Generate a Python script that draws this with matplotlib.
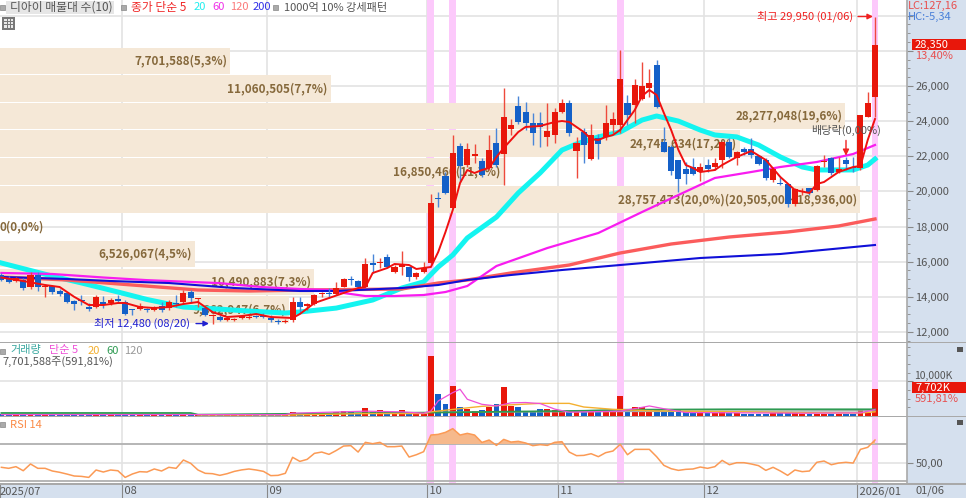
import numpy as np
import matplotlib
matplotlib.use('Agg')
import matplotlib.pyplot as plt
from matplotlib.patches import Rectangle

plt.rcParams['font.family'] = ['Noto Sans CJK KR', 'DejaVu Sans']

# daily candles, 2025/07 to 2026/01/06
opens = [15243,15072,14901,14958,14560,15243,14560,14617,14332,14218,
         13762,13819,13421,13421,13706,13649,13876,13706,13307,13307,
         13307,13250,13478,13364,13649,13706,14275,13876,13364,12909,
         12852,12681,12681,12795,12795,12909,12909,12795,12624,12567,
         12681,13706,13478,13592,14161,14218,14161,14560,15015,14901,
         14560,15925,15925,16267,15415,15698,15698,15129,15415,15925,
         19624,20876,19055,22583,21501,22014,21729,21331,22753,22127,
         23550,24859,24517,23891,23891,23095,23208,24517,25029,22298,
         23379,21843,23038,23095,23778,23778,25029,24916,25257,25883,
         27192,22810,22526,21786,21274,21388,21103,21501,21388,21786,
         22810,21900,22412,22412,22014,21786,20648,20477,20420,19282,
         19965,20193,20079,21672,21900,21103,21786,21388,21331,24233,25371]
closes = [14958,14844,15072,14503,15243,14560,14617,14275,14161,13706,
          13592,13762,13307,13990,13592,13819,13762,13023,13250,13478,
          13250,13421,13250,13706,13592,14218,13933,13933,12966,12966,
          12681,12795,12738,12909,12852,12852,12852,12681,12567,12624,
          13706,13421,13592,14104,14218,14161,14503,15015,14958,14560,
          15868,15811,15982,15698,15698,15868,15129,15358,15641,19339,
          19567,19908,22184,21445,22412,22127,20933,22355,21501,24233,
          23778,23948,23891,23322,23664,23436,24517,25029,23322,22753,
          22640,23208,22696,23891,24119,26395,24346,26054,25997,26167,
          24802,22241,21160,20705,20990,20990,21388,21274,21615,22810,
          21957,22241,22241,22070,21558,20762,21274,20420,19282,20136,
          20022,19908,21445,21729,21046,21274,21558,21331,24346,25029,28350]
highs = [15358,15186,15129,15072,15415,15415,14730,14673,14446,14275,
         13819,14104,13649,14104,14047,13933,14104,13819,13307,13649,
         13364,13478,13706,13819,14104,14389,14389,13933,13478,13023,
         12966,12852,12795,12966,12966,12966,13079,12966,12738,12738,
         13990,13990,13649,14161,14275,14503,14844,15072,15186,14958,
         16210,16438,16210,16438,15811,16609,15698,15415,15982,19851,
         19965,21103,23208,22753,22753,22696,21900,23208,23607,25883,
         24119,25428,25086,24460,24517,25029,24745,25257,25200,23095,
         23607,23834,23265,24916,24517,28045,25485,26395,27362,26964,
         27476,23664,22640,21786,21672,21900,21615,21843,21900,22867,
         23038,22298,22526,23038,22070,21900,21331,20819,20420,20193,
         20193,20193,21501,22070,21957,21957,21957,21957,24346,25655,29950]
lows = [14901,14787,14844,14389,14446,14332,13990,14161,14047,13649,
        13250,13535,13193,13364,13364,13535,13649,12966,12966,13250,
        13136,13193,13136,13250,13421,13592,13649,13421,12909,12480,
        12624,12624,12624,12738,12738,12795,12795,12567,12453,12510,
        12567,13136,13250,13535,13990,13933,14104,14560,14673,14503,
        14560,15358,15641,15641,15358,15243,14901,15015,15358,15868,
        19112,19851,19055,20534,21388,21615,20819,21217,21388,20363,
        23208,23834,23493,22640,22526,22583,22753,24460,23152,20762,
        21615,21786,21843,22924,23322,23322,23778,23891,25200,25371,
        24745,22241,20933,19965,20420,20933,20591,21103,21217,21331,
        21900,21501,22070,21900,21501,20648,20534,20363,19112,19168,
        19795,19795,20022,21388,20933,21046,21217,21103,21217,24233,24233]
volumes = [480,430,400,480,520,550,480,430,410,460,
           430,380,390,480,410,380,390,550,410,390,
           350,390,370,430,350,480,400,390,480,410,
           370,350,320,370,350,350,320,380,350,320,
           1150,500,420,1150,650,600,1150,1450,1450,900,
           2400,1250,1650,1350,870,1650,1250,870,700,
           17400,6280,3380,8700,2600,2030,1550,
           1750,2600,3580,8400,2900,2600,1160,1160,1930,2130,1640,
           1260,1260,1640,1450,1160,1160,1640,1160,5800,2130,2600,2600,1640,1640,1160,
           1640,1640,1160,970,870,870,870,1260,870,870,
           680,680,680,680,970,870,970,970,680,580,
           680,580,580,580,580,680,1640,970,7702]
rsi = [44.8,43.7,45.5,41.1,48.4,43.7,43.7,40.8,39.4,37.5,35.4,35.0,33.9,41.9,39.7,41.9,41.1,33.9,37.6,40.1,
       39.7,43.0,40.8,44.8,43.7,52.7,49.1,41.9,38.3,37.9,36.1,37.9,40.4,42.0,43.0,41.9,40.4,35.8,36.1,38.3,
       55.6,51.2,53.4,59.9,61.3,58.8,63.0,67.8,68.2,61.3,71.8,70.3,71.8,67.1,67.1,67.8,55.9,58.4,61.7,79.7,
       80.4,82.6,86.6,79.7,81.5,79.7,71.7,74.3,68.5,75.0,72.1,72.9,71.1,68.2,69.3,68.5,71.8,72.5,61.3,57.4,
       57.7,59.5,56.3,60.6,62.4,69.6,58.4,64.2,64.2,64.2,56.3,46.9,43.3,41.5,42.6,43.0,45.1,43.7,45.5,52.3,
       47.6,49.8,49.8,48.4,46.6,41.5,44.8,40.8,36.1,41.9,40.1,40.8,50.2,51.6,47.6,49.4,50.2,49.4,64.2,66.4,74.3]

ma5_idx = [0,3,6,8,10,12,14,16,17,19,21,23,25,27,29,31,33,35,37,40,41,43,45,47,49,50,51,53,54,56,57,59,60,61,62,63,64,65,66,67,68,69,70,71,72,74,76,77,78,79,80,81,82,83,84,85,86,87,88,89,90,91,92,93,94,95,96,98,99,101,103,105,107,109,111,112,113,115,117,118,119,120]
ma5_val = [15100,14900,14673,14560,14000,13535,13535,13649,13649,13421,13364,13421,13592,13706,13136,12852,12909,13023,12852,12795,13023,13649,13933,14218,14503,14560,15358,15641,15868,15811,15584,15700,16550,17690,18941,20477,21217,21046,21217,21331,21957,22469,22924,23379,23664,23721,23948,24005,23948,23664,23379,22981,22924,23095,23208,23493,24062,24631,25428,25769,25485,24460,23493,22355,21501,21331,21103,21217,21501,21957,22298,21786,20819,20079,19908,20420,20534,21103,21388,21445,22924,24119]
ma20_idx = [0,7,11,16,20,25,30,34,39,41,46,51,55,58,60,62,64,68,71,74,77,79,82,85,88,90,93,96,98,101,104,107,110,112,117,119,120]
ma20_val = [15924,15180,14790,14275,13850,13420,13300,13190,13080,13140,13360,13820,14500,14850,15700,16380,17350,18540,19910,21050,22350,22700,23100,23380,24060,24290,24000,23490,23210,23100,22640,21960,21390,21220,21220,21500,21840]
ma60_idx = [0,7,14,20,30,36,41,45,47,50,54,58,61,64,68,75,82,88,93,98,103,107,112,117,120]
ma60_val = [15358,15300,15100,14950,14780,14550,14446,14389,14218,14047,14047,14104,14275,14617,15754,16779,17633,18827,19795,20762,21103,21388,21672,22127,22640]
ma120_idx = [0,9,18,27,34,42,55,60,64,70,78,85,92,100,108,115,120]
ma120_val = [15129,14958,14673,14389,14332,14389,14446,14787,14958,15358,15811,16494,17006,17405,17690,18031,18430]
ma200_idx = [0,9,15,23,32,41,46,55,60,64,70,77,85,96,107,120]
ma200_val = [15129,15015,14901,14787,14503,14332,14332,14503,14673,14958,15243,15527,15811,16210,16438,16950]

# volume averages
vma5_idx = [0,39,40,50,55,58,59,60,62,63,64,66,68,70,72,74,76,78,85,88,89,91,94,110,118,120]
vma5_val = [400,400,800,1400,1200,800,1450,4350,6760,7730,4830,3380,2900,3800,3900,3600,2000,1100,1400,2500,2900,2100,1000,800,900,1900]
vma20_idx = [27,40,50,58,59,62,66,74,78,80,84,90,100,110,118,120]
vma20_val = [300,300,700,700,1200,1900,2800,3650,3650,2600,1930,1450,1260,970,870,1200]
vma60_idx = [0,26,27,58,66,70,80,85,100,118,120]
vma60_val = [870,870,390,970,1160,1260,1500,1800,1930,1930,1930]
vma120_idx = [60,85,120]
vma120_val = [1100,1300,1500]

# volume-by-price bars
band_prices = [27419,25854,24290,22725,21132,19539,16438,14844,13280]
band_volumes = [7701588,11060505,28277048,24745634,16850460,28757473,6526067,10490883,9662947]
band_labels = ['7,701,588(5,3%)','11,060,505(7,7%)','28,277,048(19,6%)','24,745,634(17,2%)',
               '16,850,460(11,7%)','28,757,473(20,0%)(20,505,00 ~ 18,936,00)','6,526,067(4,5%)',
               '10,490,883(7,3%)','9,662,947(6,7%)']

strong_days = [59,62,85,120]
month_pos = [-0.19,16.5,36.5,58.5,76.5,96.5,117.5]
month_labels = ['2025/07',' 08',' 09',' 10',' 11',' 12',' 2026/01']
price_ticks = [12000,14000,16000,18000,20000,22000,24000,26000,28000,30000]
price_labels = ['12,000','14,000','16,000','18,000','20,000','22,000','24,000','26,000','','']

W, H = 966, 498
RED = '#e8170b'
BLUE = '#1460c8'
RED_WICK = '#ee4a3c'
BLUE_WICK = '#4a86d8'
GRID = '#e3e3e3'
LINE = '#a9a9a9'
STRIP = '#d5e0ee'
PINK = '#fcc9fb'
TEXT = '#555555'
BAND = '#f5e8d7'
BANDTEXT = '#86693c'

def fx(x):
    return x / W

def fy(y):
    return 1 - y / H

def idx(x):
    return (x - 1.4) / 7.28

def panel(top, bottom):
    a = fig.add_axes([0, fy(bottom), fx(907), (bottom - top) / H])
    a.set_xlim(idx(0), idx(907))
    a.set_facecolor('white')
    for s in ['left', 'top', 'bottom']:
        a.spines[s].set_visible(False)
    a.spines['right'].set_color(LINE)
    a.spines['right'].set_linewidth(1.2)
    a.yaxis.tick_right()
    a.tick_params(axis='y', which='major', length=4.5, color='#888888', labelcolor=TEXT, labelsize=8, pad=1.5)
    a.tick_params(axis='y', which='minor', length=2, color='#888888')
    a.set_xticks([])
    for m in month_pos[1:]:
        a.axvline(m, color=GRID, lw=1.2, zorder=1)
    for d in strong_days:
        a.axvspan(d - 0.48, d + 0.48, color=PINK, lw=0, zorder=1.5)
    return a

def label(x, y, s, color=TEXT, size=8, ha='left', **kw):
    fig.text(fx(x), fy(y), s, color=color, fontsize=size, ha=ha, va='center', **kw)

def square(x, y):
    fig.add_artist(Rectangle((fx(x), fy(y + 5)), 5 / W, 5 / H, transform=fig.transFigure,
                             facecolor='#aaaaaa', edgecolor='#888888', lw=0.5))

def box(x0, y0, x1, y1, color, **kw):
    r = Rectangle((fx(x0), fy(y1)), (x1 - x0) / W, (y1 - y0) / H, transform=fig.transFigure,
                  facecolor=color, lw=0, **kw)
    fig.add_artist(r)
    return r

fig = plt.figure(figsize=(W / 100, H / 100), dpi=100, facecolor=STRIP)

opens = np.array(opens)
closes = np.array(closes)
highs = np.array(highs)
lows = np.array(lows)
x = np.arange(len(closes))
up = closes >= opens
colors = [RED if u else BLUE for u in up]
wick_colors = [RED_WICK if u else BLUE_WICK for u in up]

# price panel
ax = panel(0, 342)
ax.set_ylim(30890 - 56.9 * 342, 30890)
ax.set_yticks(price_ticks)
ax.set_yticklabels(price_labels)
ax.set_yticks(np.arange(11500, 30500, 500), minor=True)
for p in price_ticks:
    ax.axhline(p, color=GRID, lw=1.2, zorder=1)

ax.barh(band_prices, np.array(band_volumes) / 1e6 * 29.9 / 7.28, height=1500, left=idx(0),
        color=BAND, lw=0, zorder=2)
for price, vol, text in zip(band_prices, band_volumes, band_labels):
    ax.text(idx(vol / 1e6 * 29.9 - 3), price, text, ha='right', va='center', fontsize=8.4,
            color=BANDTEXT, fontweight='bold', zorder=3)
ax.text(idx(0), 17974, '0(0,0%)', ha='left', va='center', fontsize=8.4, color=BANDTEXT,
        fontweight='bold', zorder=3)

ax.plot(ma20_idx, ma20_val, color='#14f4f0', lw=3.6, zorder=4, solid_joinstyle='round')
ax.plot(ma120_idx, ma120_val, color='#fb5c5c', lw=2.4, zorder=4.2, solid_joinstyle='round')
ax.plot(ma60_idx, ma60_val, color='#f81cf0', lw=1.6, zorder=4.3, solid_joinstyle='round')
ax.plot(ma200_idx, ma200_val, color='#1010d8', lw=1.5, zorder=4.4)

ax.vlines(x, lows, highs, colors=wick_colors, lw=1.0, zorder=5)
heights = np.maximum(np.abs(closes - opens), 70)
ax.bar(x, heights, bottom=np.minimum(opens, closes), width=0.84, color=colors, lw=0, zorder=5.1)
ax.plot(ma5_idx, ma5_val, color='#f01010', lw=1.4, zorder=6, solid_joinstyle='round')

ax.text(idx(190), 12480, '최저 12,480 (08/20)', color='#2020d0', fontsize=8, ha='right', va='center', zorder=7)
ax.annotate('', xy=(idx(209), 12480), xytext=(idx(196), 12480), zorder=7,
            arrowprops=dict(arrowstyle='-|>', color='#2020d0', lw=1, mutation_scale=8, shrinkA=0, shrinkB=0))
ax.text(idx(853), 29950, '최고 29,950 (01/06)', color='#f02020', fontsize=8, ha='right', va='center', zorder=7)
ax.annotate('', xy=(idx(873), 29950), xytext=(idx(858), 29950), zorder=7,
            arrowprops=dict(arrowstyle='-|>', color='#f02020', lw=1, mutation_scale=8, shrinkA=0, shrinkB=0))
ax.text(idx(811), 23450, '배당락(0,00%)', color=TEXT, fontsize=8, ha='left', va='center', zorder=7)
ax.annotate('', xy=(idx(846), 22030), xytext=(idx(846), 22900), zorder=7,
            arrowprops=dict(arrowstyle='-|>', color='#f02020', lw=1, mutation_scale=9, shrinkA=0, shrinkB=0))

# volume panel
ax2 = panel(343, 416)
ax2.set_ylim(0, 21100)
ax2.set_yticks([10000])
ax2.set_yticklabels([''])
ax2.set_yticks(np.arange(2500, 21000, 2500), minor=True)
ax2.axhline(10000, color=GRID, lw=1.2, zorder=1)
ax2.bar(x, volumes, width=0.8, color=colors, lw=0, zorder=3)
ax2.plot(vma120_idx, vma120_val, color='#aaaaaa', lw=1, zorder=4)
ax2.plot(vma60_idx, vma60_val, color='#2e9a52', lw=1.3, zorder=4.1)
ax2.plot(vma20_idx, vma20_val, color='#f4b030', lw=1, zorder=4.2)
ax2.plot(vma5_idx, vma5_val, color='#ee50d8', lw=0.9, zorder=4.3)

# rsi panel
ax3 = panel(417, 484)
ax3.set_ylim(70 - (484 - 444) / 0.925, 70 + (444 - 417) / 0.925)
ax3.set_yticks([50])
ax3.set_yticklabels(['50,00'])
ax3.axhline(50, color=GRID, lw=1.2, zorder=1)
ax3.axhline(70, color='#b5b5b5', lw=1.4, zorder=2)
ax3.axhline(30, color='#b5b5b5', lw=1.4, zorder=2)
rsi_x = np.arange(len(rsi))
ax3.fill_between(rsi_x, 70, rsi, where=np.array(rsi) >= 70, interpolate=True, color='#f6b98c', lw=0, zorder=2.5)
ax3.plot(rsi_x, rsi, color='#fb9a55', lw=1.1, zorder=3)

# month ticks under the rsi panel
ax3.set_xticks(month_pos)
ax3.set_xticklabels(month_labels, ha='left')
ax3.tick_params(axis='x', length=10, color='#888888', labelcolor=TEXT, labelsize=8, pad=-8.5)

# separators between panels
for yy in [342.5, 416.5, 484]:
    box(0, yy - 0.8, 966, yy + 0.8, LINE, zorder=5)

# header row
square(0, 5)
box(6, 1, 114, 14, '#e6e6e6')
label(10, 7.5, '디아이 매물대 수(10)', size=8.5)
square(121, 5)
label(131, 7.5, '종가 단순 5', color='#f02828', size=8.5)
label(194, 7.5, '20', color='#22eeee')
label(212, 7.5, '60', color='#f030e8')
label(230, 7.5, '120', color='#fb7a7a')
label(253, 7.5, '200', color='#3030e8')
square(273, 5)
label(284, 7.5, '1000억 10% 강세패턴')

# little table icon
box(2, 17, 15, 30, '#777777')
box(4, 19, 13, 28, '#e8e8e8')
for yy in [21, 24]:
    box(4, yy, 13, yy + 0.7, '#777777')
for xx in [7, 10]:
    box(xx, 19, xx + 0.7, 28, '#777777')

# volume and rsi headers
square(0, 349)
label(10, 350.5, '거래량', color='#3aa8a0')
label(49, 350.5, '단순 5', color='#ee50d8')
label(88, 350.5, '20', color='#f4b030')
label(106, 350.5, '60', color='#2e9a52')
label(124, 350.5, '120', color='#999999')
label(2, 362, '7,701,588주(591,81%)')
square(0, 422)
label(10, 424.5, 'RSI 14', color='#fb8a45')

# right strip
label(908, 6, 'LC:127,16', color='#e85050')
label(908, 17, 'HC:-5,34', color='#4a80d8')
box(912, 39, 966, 50, RED)
label(915, 44.5, '28,350', color='white')
label(915, 56, '13,40%', color='#e85050')
label(914, 376, '10,000K', size=7.5)
box(912, 382, 966, 393, RED)
label(915, 387.5, '7,702K', color='white')
label(915, 399, '591,81%', color='#e85050')
label(916, 491, '01/06')
for yy in [349.5, 422.5]:
    box(957, yy - 2.5, 963, yy + 2.5, '#555555')

fig.savefig('out.png', dpi=100, facecolor=fig.get_facecolor())
